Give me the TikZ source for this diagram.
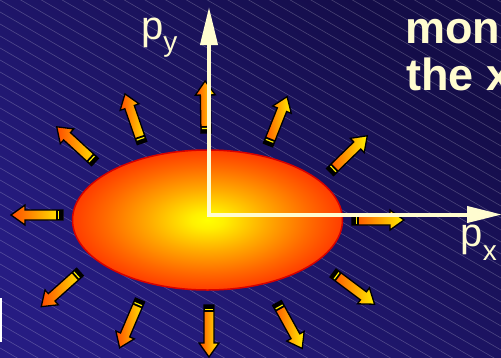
\documentclass[tikz,border=0pt]{standalone}
\usepackage{fontspec}
\setmainfont{Liberation Sans}
\usetikzlibrary{arrows.meta}
\definecolor{bgL}{RGB}{38,28,130}
\definecolor{bgD}{RGB}{20,13,72}
\definecolor{cream}{RGB}{255,252,208}
\definecolor{arrL}{RGB}{255,75,0}
\definecolor{arrR}{RGB}{255,240,0}
\definecolor{ellred}{RGB}{215,0,0}
\definecolor{ballA}{RGB}{255,255,0}
\definecolor{ballB}{RGB}{255,240,0}
\definecolor{ballC}{RGB}{255,170,0}
\definecolor{ballD}{RGB}{255,105,0}
\definecolor{ballE}{RGB}{255,60,0}
\pgfdeclareradialshading{ballshade}{\pgfpoint{0bp}{0bp}}{color(0bp)=(ballA); color(3bp)=(ballB); color(11bp)=(ballC); color(19bp)=(ballD); color(25bp)=(ballE); color(50bp)=(ballE)}
\begin{document}
\begin{tikzpicture}[x=1pt,y=1pt,
  hatch/.style={white, opacity=0.22, line width=0.6pt},
  axisline/.style={cream, line width=4pt, line join=miter},
  lbl/.style={text=cream, inner sep=0pt, anchor=base west},
  pics/flyarrow/.style={code={
    \shade[left color=arrL, right color=arrR, draw=black, line width=1.3pt, line join=miter]
      (0,-5) -- (38,-5) -- (38,-10) -- (52,0) -- (38,10) -- (38,5) -- (0,5) -- cycle;
    \fill[black] (0,-5) rectangle (7,5);
    \draw[arrR, line width=1.2pt] (4.5,-4) -- (4.5,4);
  }}]
\useasboundingbox (0,0) rectangle (501,-357);
\begin{scope}
\clip (0,0) rectangle (501,-357);
\shade[bottom color=bgL, top color=bgD, shading angle=-40] (0,0) rectangle (501,-357);
\foreach \c in {0,12,...,660} \draw[hatch] (0,{300-\c}) -- (501,{10-\c});
\fill[white] (0,-298) rectangle (1.5,-342);
\shade[shading=ballshade, draw=ellred, line width=1.5pt] (207.5,-220) ellipse [x radius=135, y radius=70];
\pic[rotate=137.4] at (95,-162) {flyarrow};
\pic[rotate=109.1] at (142,-143) {flyarrow};
\pic[rotate=91] at (206,-133) {flyarrow};
\pic[rotate=68.4] at (268,-145) {flyarrow};
\pic[rotate=44.2] at (330,-172) {flyarrow};
\pic[rotate=0] at (352,-220) {flyarrow};
\pic[rotate=-36.9] at (333,-273) {flyarrow};
\pic[rotate=-61] at (277,-303) {flyarrow};
\pic[rotate=180] at (63,-215) {flyarrow};
\pic[rotate=221.8] at (80,-272) {flyarrow};
\pic[rotate=246.9] at (140,-300) {flyarrow};
\pic[rotate=-90] at (209,-305) {flyarrow};
\coordinate (o) at (209,-214.5);
\coordinate (ytip) at (209,-7);
\coordinate (xtip) at (502,-214.5);
\draw[axisline, {Triangle[length=38pt,width=17pt]}-{Triangle[length=35pt,width=16pt]}] (ytip) -- (o) -- (xtip);
\node[lbl] (py) at (141,-39) {\fontsize{40}{40}\selectfont p\raisebox{-12pt}{\fontsize{28}{28}\selectfont y}};
\node[lbl] (px) at (460.5,-246) {\fontsize{40}{40}\selectfont p\raisebox{-14pt}{\fontsize{28}{28}\selectfont x}};
\node[lbl] (t1) at (405,-43) {\fontsize{45}{45}\selectfont\bfseries mon};
\node[lbl] (t2) at (406,-90) {\fontsize{45}{45}\selectfont\bfseries the x};
\end{scope}
\end{tikzpicture}
\end{document}
